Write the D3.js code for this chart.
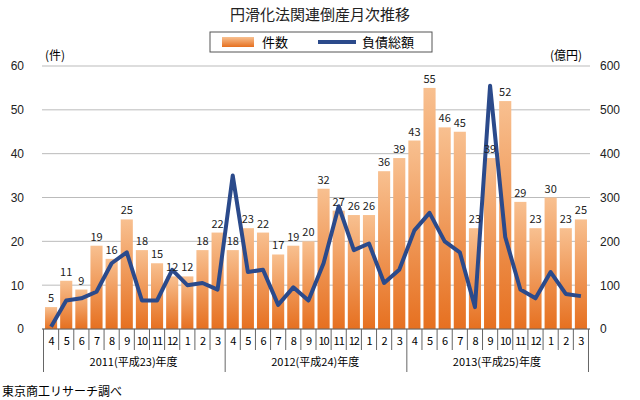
<!DOCTYPE html>
<html><head><meta charset="utf-8">
<script src="https://cdn.jsdelivr.net/npm/d3@7"></script>
<style>body{margin:0;background:#fff;font-family:"Noto Sans CJK JP","Noto Sans",sans-serif}</style>
</head><body><svg id="c" width="640" height="400"></svg>
<script>
// months Apr 2011 - Mar 2014
var months = ['4','5','6','7','8','9','10','11','12','1','2','3','4','5','6','7','8','9','10','11','12','1','2','3','4','5','6','7','8','9','10','11','12','1','2','3'];
var counts = [5,11,9,19,16,25,18,15,12,12,18,22, 18,23,22,17,19,20,32,27,26,26,36,39, 43,55,46,45,23,39,52,29,23,30,23,25];
var debt = [5,65,70,85,150,175,65,65,135,100,105,90, 350,130,135,55,95,65,150,280,180,195,105,135, 225,265,200,175,50,555,210,90,70,130,80,75];
var years = ['2011(平成23)年度','2012(平成24)年度','2013(平成25)年度'];
var leftTicks = [0,10,20,30,40,50,60];
var rightTicks = [0,100,200,300,400,500,600];

var svg = d3.select('#c');
var L = 42, R = 590, T = 66, B = 329;

var x = d3.scaleBand().domain(d3.range(months.length)).range([L, R]).padding(0.2);
var yL = d3.scaleLinear().domain([0, 60]).range([B, T]);
var yR = d3.scaleLinear().domain([0, 600]).range([B, T]);

var defs = svg.append('defs');
var g = defs.append('linearGradient').attr('id', 'bar').attr('x1', 0).attr('x2', 0).attr('y1', 0).attr('y2', 1);
g.append('stop').attr('offset', '0%').attr('stop-color', '#f8c090');
g.append('stop').attr('offset', '100%').attr('stop-color', '#e67020');

svg.append('text').attr('x', 320).attr('y', 20).attr('text-anchor', 'middle')
  .attr('font-size', 15).attr('fill', '#222').text('円滑化法関連倒産月次推移');

// legend
svg.append('rect').attr('x', 210).attr('y', 32).attr('width', 222).attr('height', 20)
  .attr('fill', '#fff').attr('stroke', '#555');
svg.append('rect').attr('x', 222).attr('y', 37).attr('width', 32).attr('height', 10).attr('fill', 'url(#bar)');
svg.append('text').attr('x', 262).attr('y', 47).attr('font-size', 13).text('件数');
svg.append('line').attr('x1', 318).attr('x2', 356).attr('y1', 42).attr('y2', 42)
  .attr('stroke', '#2b4a8b').attr('stroke-width', 4);
svg.append('text').attr('x', 362).attr('y', 47).attr('font-size', 13).text('負債総額');

svg.append('text').attr('x', 45).attr('y', 60).attr('font-size', 12).text('(件)');
svg.append('text').attr('x', 550).attr('y', 60).attr('font-size', 12).text('(億円)');

// grid
svg.append('g').selectAll('line').data(leftTicks).join('line')
  .attr('x1', L).attr('x2', R).attr('y1', yL).attr('y2', yL)
  .attr('stroke', '#bbb').attr('stroke-width', 1);

var axL = svg.append('g').attr('transform', 'translate(' + L + ',0)')
  .call(d3.axisLeft(yL).tickValues(leftTicks).tickSize(0).tickPadding(18));
var axR = svg.append('g').attr('transform', 'translate(' + R + ',0)')
  .call(d3.axisRight(yR).tickValues(rightTicks).tickSize(0).tickPadding(10));
[axL, axR].forEach(function(a){
  a.select('.domain').remove();
  a.selectAll('text').attr('font-size', 12).attr('fill', '#222');
});

svg.append('g').selectAll('rect').data(counts).join('rect')
  .attr('x', function(d, i){ return x(i); }).attr('width', x.bandwidth())
  .attr('y', function(d){ return yL(d); }).attr('height', function(d){ return B - yL(d); })
  .attr('fill', 'url(#bar)');

var line = d3.line().x(function(d, i){ return x(i) + x.bandwidth() / 2; }).y(function(d){ return yR(d); });
svg.append('path').datum(debt).attr('d', line).attr('fill', 'none')
  .attr('stroke', '#2b4a8b').attr('stroke-width', 4).attr('stroke-linejoin', 'round');

svg.append('g').selectAll('text').data(counts).join('text')
  .attr('x', function(d, i){ return x(i) + x.bandwidth() / 2; })
  .attr('y', function(d){ return yL(d) - 5; })
  .attr('text-anchor', 'middle').attr('font-size', 11).attr('fill', '#222')
  .text(function(d){ return d; });

svg.append('line').attr('x1', L).attr('x2', R).attr('y1', B).attr('y2', B).attr('stroke', '#666');

// month labels
var step = x.step();
svg.append('g').selectAll('text').data(months).join('text')
  .attr('x', function(d, i){ return x(i) + x.bandwidth() / 2; }).attr('y', 345)
  .attr('text-anchor', 'middle').attr('font-size', 11).attr('letter-spacing', -1).text(function(d){ return d; });
svg.append('g').selectAll('line').data(d3.range(months.length + 1)).join('line')
  .attr('x1', function(i){ return L + i * step + x.paddingOuter() * step - step * x.paddingInner() / 2; })
  .attr('x2', function(i){ return L + i * step + x.paddingOuter() * step - step * x.paddingInner() / 2; })
  .attr('y1', B).attr('y2', function(i){ return i % 12 === 0 ? 372 : 350; })
  .attr('stroke', '#666');

svg.append('g').selectAll('text').data(years).join('text')
  .attr('x', function(d, i){ return x(i * 12 + 6) - step * 0.15; }).attr('y', 366)
  .attr('text-anchor', 'middle').attr('font-size', 11).text(function(d){ return d; });

svg.append('text').attr('x', 2).attr('y', 396).attr('font-size', 12).text('東京商工リサーチ調べ');
</script></body></html>
